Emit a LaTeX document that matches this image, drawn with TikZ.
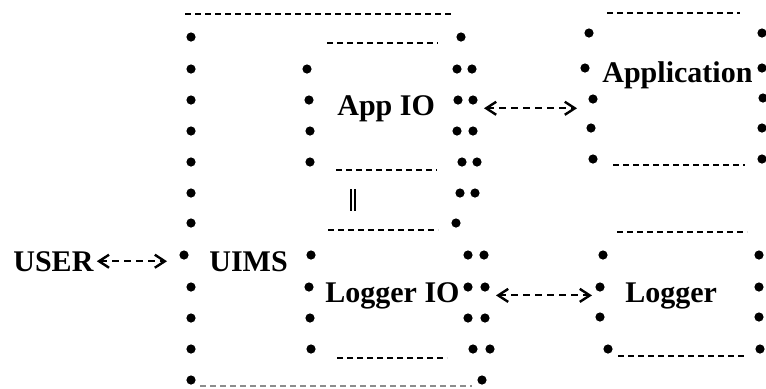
\documentclass[tikz,border=0pt]{standalone}
\usepackage{fontspec}
\setmainfont{Liberation Serif}
\usetikzlibrary{positioning,arrows.meta}
\tikzset{ast/.style={circle,fill=black,minimum size=4.6pt,inner sep=0pt}  }
\tikzset{dashrow/.style={line width=1.2pt,dash pattern=on 3pt off 2pt}  }
\tikzset{lbl/.style={anchor=base west,inner sep=0pt,font=\fontsize{15}{18}\selectfont\bfseries}  }
\tikzset{twoway/.style={line width=1pt,dash pattern=on 3.5pt off 2.5pt,
	{Straight Barb[length=5pt,width=6.5pt,line width=1.2pt]}-{Straight Barb[length=5pt,width=6.5pt,line width=1.2pt]}}  }

\begin{document}
\begin{tikzpicture}[x=0.5pt,y=-0.5pt]
	\useasboundingbox (0,0) rectangle (766,388);

		% dots, column by column
		\foreach \x/\y [count=\i] in {191/37,191/69,191/100,191/131,191/162,191/193,191/223,184/255,191/287,191/318,191/349,191/380}
			\node[ast] (ul\i) at (\x,\y) {};
		\foreach \x/\y [count=\i] in {307/69,309/100,310/131,310/162,311/255,309/287,310/318,311/349}
			\node[ast] (il\i) at (\x,\y) {};
		\foreach \x/\y [count=\i] in {457/69,458/100,457/131,462/162,460/193,468/255,468/287,468/318,473/349}
			\node[ast] (ir\i) at (\x,\y) {};
		\foreach \x/\y [count=\i] in {461/37,472/69,473/100,473/131,477/162,475/193,456/223,484/255,485/287,485/318,490/349,482/380}
			\node[ast] (ur\i) at (\x,\y) {};
		\foreach \x/\y [count=\i] in {589/33,585/68,593/99,591/128,593/159}
			\node[ast] (al\i) at (\x,\y) {};
		\foreach \x/\y [count=\i] in {762/33,762/68,763/98,762/128,762/159}
			\node[ast] (ar\i) at (\x,\y) {};
		\foreach \x/\y [count=\i] in {603/255,600/287,600/317,608/349}
			\node[ast] (ll\i) at (\x,\y) {};
		\foreach \x/\y [count=\i] in {759/255,759/287,759/317,760/349}
			\node[ast] (lr\i) at (\x,\y) {};

		% box tops and bottoms
		\draw[dashrow] (185,14) -- (453,14);
		\draw[dashrow,line width=0.6pt,black!45] (200,386) -- (472,386);
		\draw[dashrow] (327,43) -- (438,43);
		\draw[dashrow] (336,170) -- (437,170);
		\draw[dashrow] (328,230) -- (438,230);
		\draw[dashrow] (337,358) -- (447,358);
		\draw[dashrow] (607,13) -- (740,13);
		\draw[dashrow] (613,165) -- (745,165);
		\draw[dashrow] (617,232) -- (747,232);
		\draw[dashrow] (618,356) -- (745,356);

		\node[lbl] (user) at (13,271) {USER};
		\node[lbl] (uims) at (209,271) {UIMS};
		\node[lbl] (appio) at (337,115) {App IO};
		\node[lbl] (logio) at (325,302) {Logger IO};
		\node[lbl] (app) at (602,82) {Application};
		\node[lbl] (logger) at (625,302) {Logger};

		\coordinate (pipetop) at (353,189);
		\coordinate (pipebot) at (353,211);
		\draw[double,line width=0.6pt,double distance=1.4pt] (pipetop) -- (pipebot);

		\draw[twoway,shorten <=1.5pt,shorten >=6pt] (user.east) -- (user.east -| ul8.west);
		\draw[twoway,shorten <=3pt,shorten >=5.5pt] (appio.east -| ur3.east) -- (appio.east -| al3.west);
		\draw[twoway,shorten <=3pt,shorten >=1.5pt] (logio.east -| ur9.east) -- (logio.east -| ll2.west);
	\end{tikzpicture}
\end{document}
